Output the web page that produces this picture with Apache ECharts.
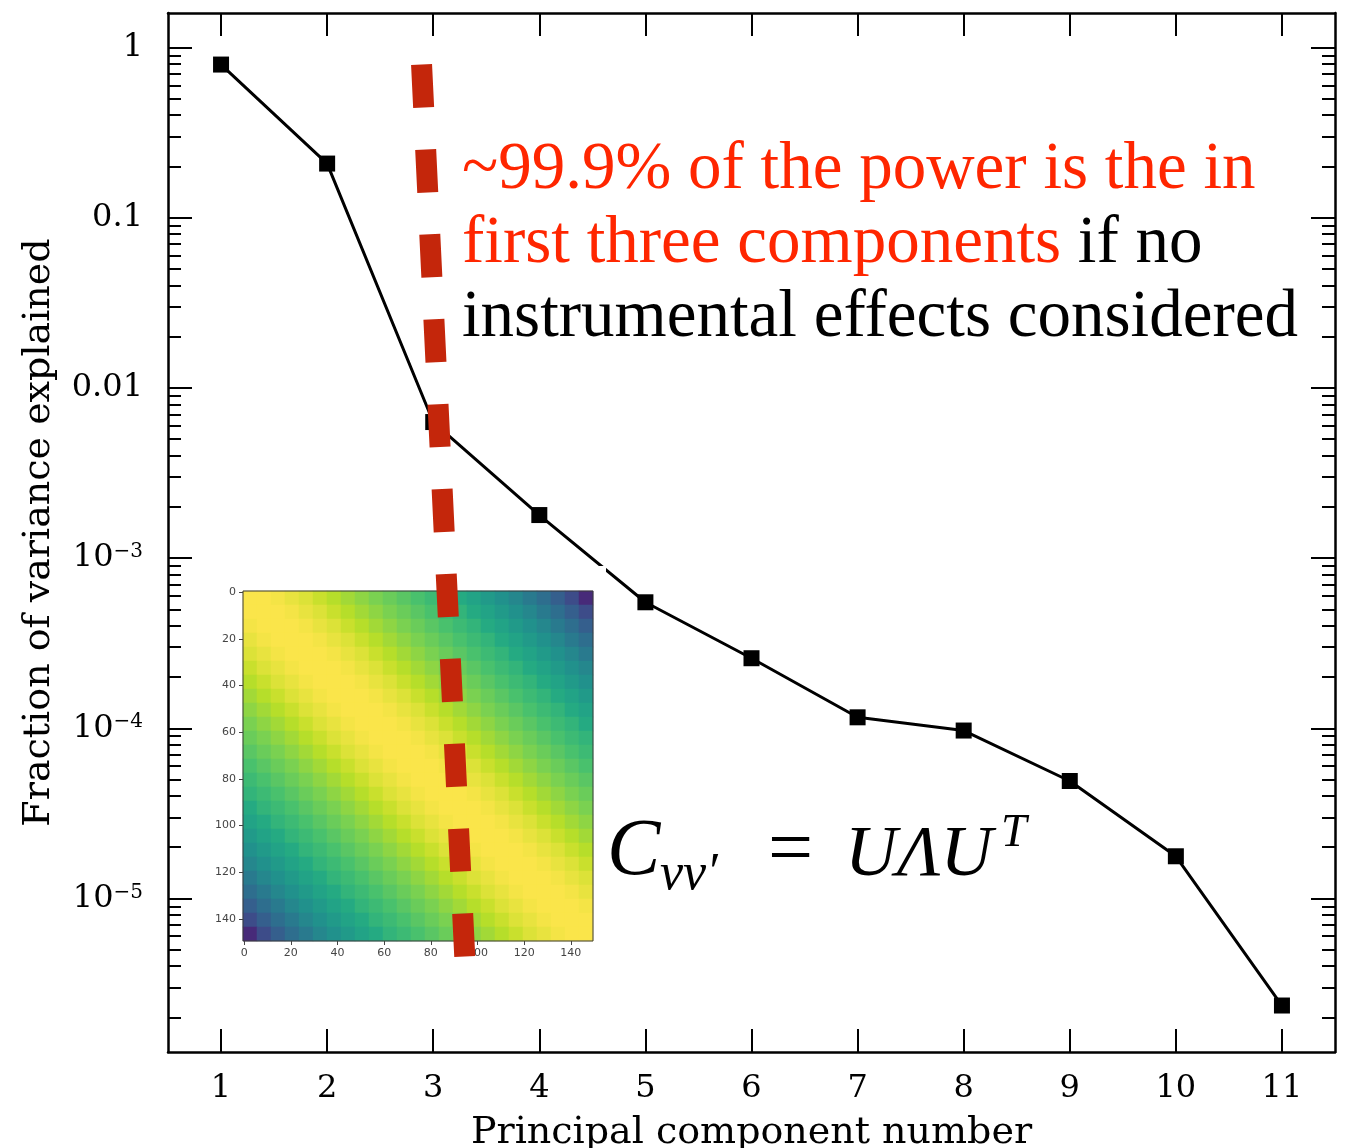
<!DOCTYPE html>
<html><head><meta charset="utf-8">
<script src="https://cdn.jsdelivr.net/npm/echarts@6/dist/echarts.min.js"></script>
<style>html,body{margin:0;padding:0;background:#fff}#c{width:1351px;height:1148px}</style>
</head><body><div id="c"></div>
<script>
// ---- data ----
const components = [1, 2, 3, 4, 5, 6, 7, 8, 9, 10, 11];
const varianceFraction = [0.794, 0.208, 0.0063, 0.00179, 5.5e-4, 2.58e-4, 1.16e-4, 9.7e-5, 4.9e-5, 1.77e-5, 2.35e-6];
const xTickValues = [1, 2, 3, 4, 5, 6, 7, 8, 9, 10, 11];
const yTickValues = [1e-5, 1e-4, 1e-3, 0.01, 0.1, 1];
const yTickLabels = ['10{sup|−5}', '10{sup|−4}', '10{sup|−3}', '0.01', '0.1', '1'];
const yMinorMultipliers = [2, 3, 4, 5, 6, 7, 8, 9];
const yMinorDecades = [1e-6, 1e-5, 1e-4, 1e-3, 1e-2, 1e-1];
const dividerLine = [[2.890, 0.794], [3.298, 4.44e-6]];
const insetTickValues = [0, 20, 40, 60, 80, 100, 120, 140];
// covariance image (25 x 25 cells, colour level 0-100 on viridis)
const covMatrix = [
[100,100,99,97,95,92,89,86,83,80,77,74,71,68,65,61,58,54,50,46,41,36,30,23,12],
[100,100,100,99,97,95,92,89,86,83,80,77,74,71,68,65,61,58,54,50,46,41,36,30,23],
[99,100,100,100,99,97,95,92,89,86,83,80,77,74,71,68,65,61,58,54,50,46,41,36,30],
[97,99,100,100,100,99,97,95,92,89,86,83,80,77,74,71,68,65,61,58,54,50,46,41,36],
[95,97,99,100,100,100,99,97,95,92,89,86,83,80,77,74,71,68,65,61,58,54,50,46,41],
[92,95,97,99,100,100,100,99,97,95,92,89,86,83,80,77,74,71,68,65,61,58,54,50,46],
[89,92,95,97,99,100,100,100,99,97,95,92,89,86,83,80,77,74,71,68,65,61,58,54,50],
[86,89,92,95,97,99,100,100,100,99,97,95,92,89,86,83,80,77,74,71,68,65,61,58,54],
[83,86,89,92,95,97,99,100,100,100,99,97,95,92,89,86,83,80,77,74,71,68,65,61,58],
[80,83,86,89,92,95,97,99,100,100,100,99,97,95,92,89,86,83,80,77,74,71,68,65,61],
[77,80,83,86,89,92,95,97,99,100,100,100,99,97,95,92,89,86,83,80,77,74,71,68,65],
[74,77,80,83,86,89,92,95,97,99,100,100,100,99,97,95,92,89,86,83,80,77,74,71,68],
[71,74,77,80,83,86,89,92,95,97,99,100,100,100,99,97,95,92,89,86,83,80,77,74,71],
[68,71,74,77,80,83,86,89,92,95,97,99,100,100,100,99,97,95,92,89,86,83,80,77,74],
[65,68,71,74,77,80,83,86,89,92,95,97,99,100,100,100,99,97,95,92,89,86,83,80,77],
[61,65,68,71,74,77,80,83,86,89,92,95,97,99,100,100,100,99,97,95,92,89,86,83,80],
[58,61,65,68,71,74,77,80,83,86,89,92,95,97,99,100,100,100,99,97,95,92,89,86,83],
[54,58,61,65,68,71,74,77,80,83,86,89,92,95,97,99,100,100,100,99,97,95,92,89,86],
[50,54,58,61,65,68,71,74,77,80,83,86,89,92,95,97,99,100,100,100,99,97,95,92,89],
[46,50,54,58,61,65,68,71,74,77,80,83,86,89,92,95,97,99,100,100,100,99,97,95,92],
[41,46,50,54,58,61,65,68,71,74,77,80,83,86,89,92,95,97,99,100,100,100,99,97,95],
[36,41,46,50,54,58,61,65,68,71,74,77,80,83,86,89,92,95,97,99,100,100,100,99,97],
[30,36,41,46,50,54,58,61,65,68,71,74,77,80,83,86,89,92,95,97,99,100,100,100,99],
[23,30,36,41,46,50,54,58,61,65,68,71,74,77,80,83,86,89,92,95,97,99,100,100,100],
[12,23,30,36,41,46,50,54,58,61,65,68,71,74,77,80,83,86,89,92,95,97,99,100,100]
];

// ---- build tables for the library ----
const mainData = components.map((c, i) => [c, varianceFraction[i]]);
const yMinorTickValues = [];
yMinorDecades.forEach(d => yMinorMultipliers.forEach(m => yMinorTickValues.push(m * d)));
const insetCells = covMatrix.map((r, i) => String(i));
const heatData = [];
covMatrix.forEach((row, i) => row.forEach((v, j) => heatData.push([j, i, v])));

const AXF = "'DejaVu Serif', serif";
const SERIF = "'Liberation Serif', serif";
const yMin = 1.253e-6, yMax = 1.595;

function yFmt(v) {
  let best = 0, bd = 1e9;
  yTickValues.forEach((t, i) => { const d = Math.abs(Math.log10(t) - Math.log10(v)); if (d < bd) { bd = d; best = i; } });
  return yTickLabels[best];
}
const frameLine = { show: true, onZero: false, lineStyle: { color: '#000', width: 2.5 } };
const majorTickX = { show: true, inside: true, length: 23, customValues: xTickValues, lineStyle: { color: '#000', width: 2 } };
const majorTickY = { show: true, inside: true, length: 24, customValues: yTickValues, lineStyle: { color: '#000', width: 2 } };
const minorTickY = { show: true, inside: true, length: 13, customValues: yMinorTickValues, lineStyle: { color: '#000', width: 2 } };
const viridis = ['#440154', '#482475', '#414487', '#355f8d', '#2a788e', '#21918c', '#22a884', '#44bf70', '#7ad151', '#bddf26', '#fae54a'];

const chart = echarts.init(document.getElementById('c'), null, { renderer: 'canvas' });
chart.setOption({
  animation: false,
  backgroundColor: '#fff',
  grid: [
    { left: 168, right: 16, top: 13, bottom: 96, outerBoundsMode: 'none', containLabel: false },
    { left: 243, top: 591, width: 350, height: 350, show: true, borderColor: '#3a3a3a', borderWidth: 1, z: 6, outerBoundsMode: 'none', containLabel: false }
  ],
  visualMap: { type: 'continuous', show: false, seriesIndex: 2, dimension: 2, min: 0, max: 100, inRange: { color: viridis } },
  xAxis: [
    { type: 'value', gridIndex: 0, position: 'bottom', min: 0.5, max: 11.5,
      name: 'Principal component number', nameLocation: 'middle', nameGap: 62,
      nameTextStyle: { fontFamily: AXF, fontSize: 38, color: '#000' },
      axisLine: frameLine, axisTick: majorTickX,
      axisLabel: { show: true, customValues: xTickValues, margin: 21, fontFamily: AXF, fontSize: 32, lineHeight: 32, color: '#000' },
      splitLine: { show: false } },
    { type: 'value', gridIndex: 0, position: 'top', min: 0.5, max: 11.5,
      axisLine: frameLine, axisTick: majorTickX, axisLabel: { show: false }, splitLine: { show: false } },
    { type: 'category', gridIndex: 1, position: 'bottom', data: insetCells, show: false },
    { type: 'value', gridIndex: 1, position: 'bottom', min: -0.5, max: 149.5, z: 6,
      axisLine: { show: false, onZero: false },
      axisTick: { show: true, length: 4, customValues: insetTickValues, lineStyle: { color: '#444', width: 1 } },
      axisLabel: { show: true, customValues: insetTickValues, margin: 7, fontFamily: "'DejaVu Sans', sans-serif", fontSize: 11, color: '#444' },
      splitLine: { show: false } }
  ],
  yAxis: [
    { type: 'log', logBase: 10, gridIndex: 0, position: 'left', min: yMin, max: yMax,
      name: 'Fraction of variance explained', nameLocation: 'middle', nameGap: 110, nameRotate: 90,
      nameTextStyle: { fontFamily: AXF, fontSize: 38, color: '#000' },
      axisLine: frameLine, axisTick: majorTickY,
      axisLabel: { show: true, customValues: yTickValues, formatter: yFmt, margin: 25, fontFamily: AXF, fontSize: 32, lineHeight: 32, color: '#000',
        rich: { sup: { fontFamily: AXF, fontSize: 20, lineHeight: 20, verticalAlign: 'top', color: '#000' } } },
      splitLine: { show: false } },
    { type: 'log', logBase: 10, gridIndex: 0, position: 'left', min: yMin, max: yMax,
      axisLine: { show: false }, axisTick: minorTickY, axisLabel: { show: false }, splitLine: { show: false } },
    { type: 'log', logBase: 10, gridIndex: 0, position: 'right', min: yMin, max: yMax,
      axisLine: frameLine, axisTick: majorTickY, axisLabel: { show: false }, splitLine: { show: false } },
    { type: 'log', logBase: 10, gridIndex: 0, position: 'right', min: yMin, max: yMax,
      axisLine: { show: false }, axisTick: minorTickY, axisLabel: { show: false }, splitLine: { show: false } },
    { type: 'category', gridIndex: 1, position: 'left', data: insetCells, inverse: true, show: false },
    { type: 'value', gridIndex: 1, position: 'left', min: -0.5, max: 149.5, inverse: true, z: 6,
      axisLine: { show: false, onZero: false },
      axisTick: { show: true, length: 4, customValues: insetTickValues, lineStyle: { color: '#444', width: 1 } },
      axisLabel: { show: true, customValues: insetTickValues, margin: 7, fontFamily: "'DejaVu Sans', sans-serif", fontSize: 11, color: '#444' },
      splitLine: { show: false } }
  ],
  series: [
    { type: 'line', xAxisIndex: 0, yAxisIndex: 0, data: mainData, symbol: 'rect', symbolSize: 16,
      itemStyle: { color: '#000' }, lineStyle: { color: '#000', width: 3 }, z: 2, silent: true },
    { type: 'line', xAxisIndex: 0, yAxisIndex: 0, data: dividerLine, symbol: 'none',
      lineStyle: { color: '#c4260b', width: 21, type: [43, 42], cap: 'butt' }, z: 10, silent: true },
    { type: 'heatmap', xAxisIndex: 2, yAxisIndex: 4, data: heatData, z: 4, silent: true,
      itemStyle: { borderWidth: 0 }, emphasis: { disabled: true } }
  ],
  graphic: { elements: [
    { type: 'rect', z: 3, shape: { x: 212, y: 566, width: 394, height: 400 }, style: { fill: '#fff' }, silent: true },
    { type: 'rect', z: 20, shape: { x: 196, y: 800, width: 17, height: 130 }, style: { fill: '#fff' }, silent: true },
    { type: 'text', z: 12, x: 462, y: 133, silent: true,
      style: { text: '{r|~99.9% of the power is the in}\n{r|first three components}{k| if no}\n{k|instrumental effects considered}',
        align: 'left', verticalAlign: 'top',
        rich: { r: { fill: '#ff2600', fontFamily: SERIF, fontSize: 67, lineHeight: 74 },
                k: { fill: '#000', fontFamily: SERIF, fontSize: 67, lineHeight: 74 } } } },
    { type: 'text', z: 12, x: 607, y: 853, silent: true, style: { text: 'C', fontFamily: SERIF, fontStyle: 'italic', fontSize: 80, fill: '#000', align: 'left', verticalAlign: 'middle' } },
    { type: 'text', z: 12, x: 660, y: 875, silent: true, style: { text: 'νν′', fontFamily: SERIF, fontStyle: 'italic', fontSize: 52, fill: '#000', align: 'left', verticalAlign: 'middle' } },
    { type: 'text', z: 12, x: 768, y: 853, silent: true, style: { text: '=', fontFamily: SERIF, fontSize: 80, fill: '#000', align: 'left', verticalAlign: 'middle' } },
    { type: 'text', z: 12, x: 845, y: 856, silent: true, style: { text: 'UΛU', fontFamily: SERIF, fontStyle: 'italic', fontSize: 72, fill: '#000', align: 'left', verticalAlign: 'middle' } },
    { type: 'text', z: 12, x: 1001, y: 834, silent: true, style: { text: 'T', fontFamily: SERIF, fontStyle: 'italic', fontSize: 46, fill: '#000', align: 'left', verticalAlign: 'middle' } }
  ] }
});
</script>
</body></html>
